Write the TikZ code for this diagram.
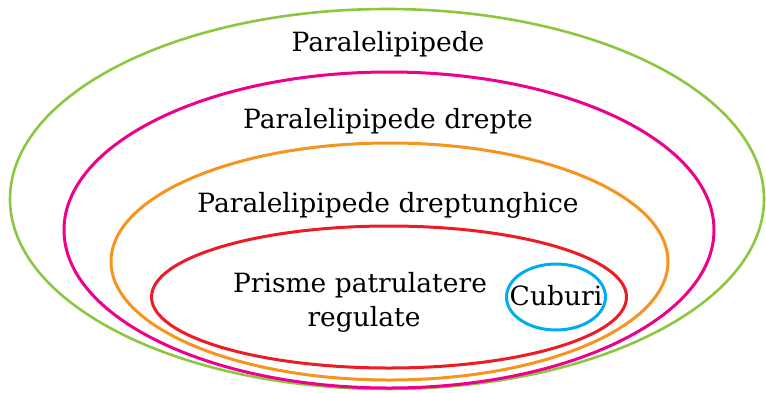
\documentclass[tikz,border=0pt]{standalone}
\usepackage{fontspec}
\setmainfont{DejaVu Serif}
\usetikzlibrary{shapes.geometric}
\definecolor{cgreen}{RGB}{141,198,63}
\definecolor{cmag}{RGB}{236,0,140}
\definecolor{corange}{RGB}{247,148,29}
\definecolor{cred}{RGB}{237,28,36}
\definecolor{cblue}{RGB}{0,174,239}
\begin{document}
\begin{tikzpicture}[x=1pt,y=-1pt,
  setline/.style={line width=3pt},
  lbl/.style={anchor=base,inner sep=0pt,font=\fontsize{26.5}{33}\selectfont}]
\useasboundingbox (0,0) rectangle (766,392);
\draw[setline,cgreen,line width=2.6pt] (387,199) ellipse [x radius=377,y radius=190];
\draw[setline,cmag] (389,230) ellipse [x radius=325,y radius=158];
\draw[setline,corange] (389.5,261.5) ellipse [x radius=278.5,y radius=118.5];
\draw[setline,cred] (389,297) ellipse [x radius=237.5,y radius=71];
\draw[setline,cblue] (556,297) ellipse [x radius=49.5,y radius=33];
\node[lbl] (t1) at (388,51) {Paralelipipede};
\node[lbl] (t2) at (388,128) {Paralelipipede drepte};
\node[lbl] (t3) at (388,212) {Paralelipipede dreptunghice};
\node[lbl] (t4a) at (360,292) {Prisme patrulatere};
\node[lbl] (t4b) at (364,326) {regulate};
\node[lbl] (t5) at (556,305) {Cuburi};
\end{tikzpicture}
\end{document}
